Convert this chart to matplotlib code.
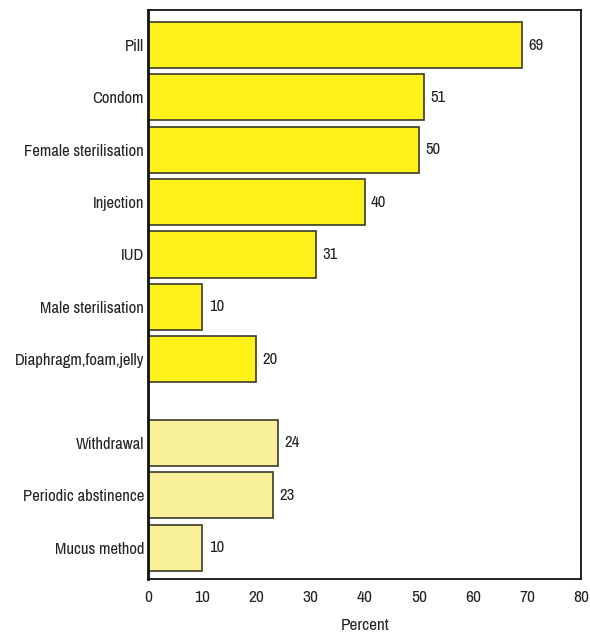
import matplotlib
matplotlib.use("Agg")
import matplotlib.pyplot as plt

# data
methods = ["Pill", "Condom", "Female sterilisation", "Injection", "IUD",
           "Male sterilisation", "Diaphragm,foam,jelly",
           "Withdrawal", "Periodic abstinence", "Mucus method"]
percent = [69, 51, 50, 40, 31, 10, 20, 24, 23, 10]
modern = [True, True, True, True, True, True, True, False, False, False]
xticks = [0, 10, 20, 30, 40, 50, 60, 70, 80]

# narrow face to mimic the condensed print font
plt.rcParams['font.family'] = ['Archivo Narrow', 'Liberation Sans', 'DejaVu Sans']
fs = 12

fig = plt.figure(figsize=(5.9, 6.36), dpi=100)
ax = fig.add_axes([0.251, 0.0896, 0.734, 0.8946])

# leave a gap between modern and traditional methods
pos = []
y = 0.0
for i, m in enumerate(modern):
    if i > 0 and modern[i - 1] and not m:
        y += 0.6
    pos.append(y)
    y += 1.0

colors = ["#fff21a" if m else "#f9f09a" for m in modern]
ax.barh(pos, percent, height=0.88, color=colors, edgecolor="#3a3a2a", linewidth=1.2)

for p, v in zip(pos, percent):
    ax.text(v + 1.2, p, str(v), va="center", ha="left", fontsize=fs, color="#222222")

ax.set_yticks(pos)
ax.set_yticklabels(methods, fontsize=fs, color="#222222")
ax.set_xticks(xticks)
ax.set_xticklabels([str(t) for t in xticks], fontsize=fs + 0.5, color="#222222")
ax.tick_params(length=0, pad=3)
ax.tick_params(axis="x", pad=8)
ax.set_xlim(0, 80)
ax.set_ylim(pos[-1] + 0.6, -0.67)
ax.set_xlabel("Percent", fontsize=fs + 0.3, color="#222222", labelpad=9)

for s in ax.spines.values():
    s.set_color("#111111")
    s.set_linewidth(1.3)
ax.spines["left"].set_linewidth(2)

fig.savefig("out.png", dpi=100)
